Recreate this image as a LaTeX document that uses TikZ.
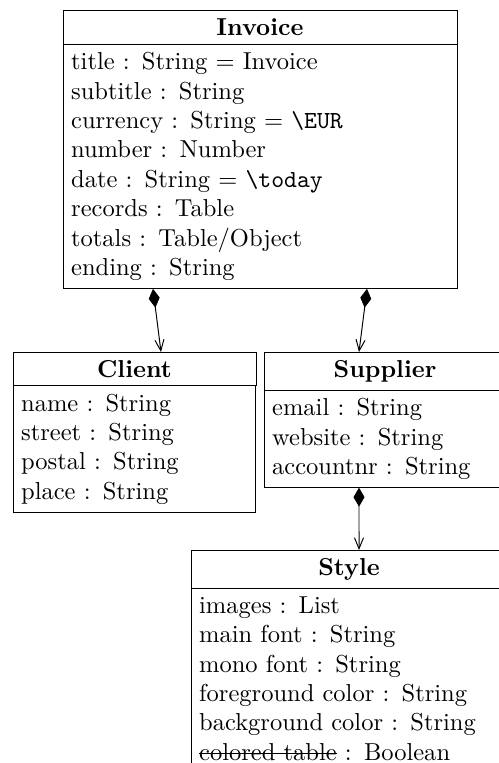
\documentclass[tikz,border=0pt]{standalone}
\usetikzlibrary{arrows.meta,calc}
\newcommand\mystrike[1]{\leavevmode\setbox0\hbox{#1}\rlap{\rule[0.6ex]{\wd0}{0.4pt}}\box0\relax}
\begin{document}
\begin{tikzpicture}[x=0.408pt,y=-0.408pt,
  classhead/.style={draw, font=\bfseries, inner sep=0.3333em, outer sep=0pt, anchor=north west},
  classbody/.style={draw, align=left, inner sep=0.3333em, outer sep=0pt, anchor=north west},
  comp/.style={{Diamond[length=7.75pt,width=4.5pt]}-{Straight Barb[length=4.5pt,width=3.7pt]}}]
\useasboundingbox (0,0) rectangle (499,763);
\clip (0,0) rectangle (499,763);

% Invoice
\node[classhead, minimum width=160.75pt] (invoice) at (63,11) {Invoice};
\node[classbody, text width=154.08pt] (invoicebody) at (invoice.south west)
  {title : String = Invoice\\
   subtitle : String\\
   currency : String = \texttt{\textbackslash EUR}\\
   number : Number\\
   date : String = \texttt{\textbackslash today}\\
   records : Table\\
   totals : Table/Object\\
   ending : String};

% Client
\node[classhead, minimum width=99.14pt] (client) at (13,352) {Client};
\node[classbody, text width=92.47pt] (clientbody) at (client.south west)
  {name : String\\
   street : String\\
   postal : String\\
   place : String};

% Supplier
\node[classhead, minimum width=98.74pt] (supplier) at (264,352) {Supplier};
\node[classbody, text width=92.07pt] (supplierbody) at (supplier.south west)
  {email : String\\
   website : String\\
   accountnr : String};

% Style
\node[classhead, minimum width=128.93pt] (style) at (191,550) {Style};
\node[classbody, text width=122.26pt] (stylebody) at (style.south west)
  {images : List\\
   main font : String\\
   mono font : String\\
   foreground color : String\\
   background color : String\\
   \mystrike{colored table} : Boolean};

% Compositions
\draw[comp] ($(invoicebody.south)+(-107,0)$) -- ($(client.north)+(26.5,0)$);
\draw[comp] ($(invoicebody.south)+(107,0)$) -- ($(supplier.north)+(-26,0)$);
\draw[comp] ($(supplierbody.south)+(-26,0)$) -- ($(style.north)+(10,0)$);
\end{tikzpicture}
\end{document}
